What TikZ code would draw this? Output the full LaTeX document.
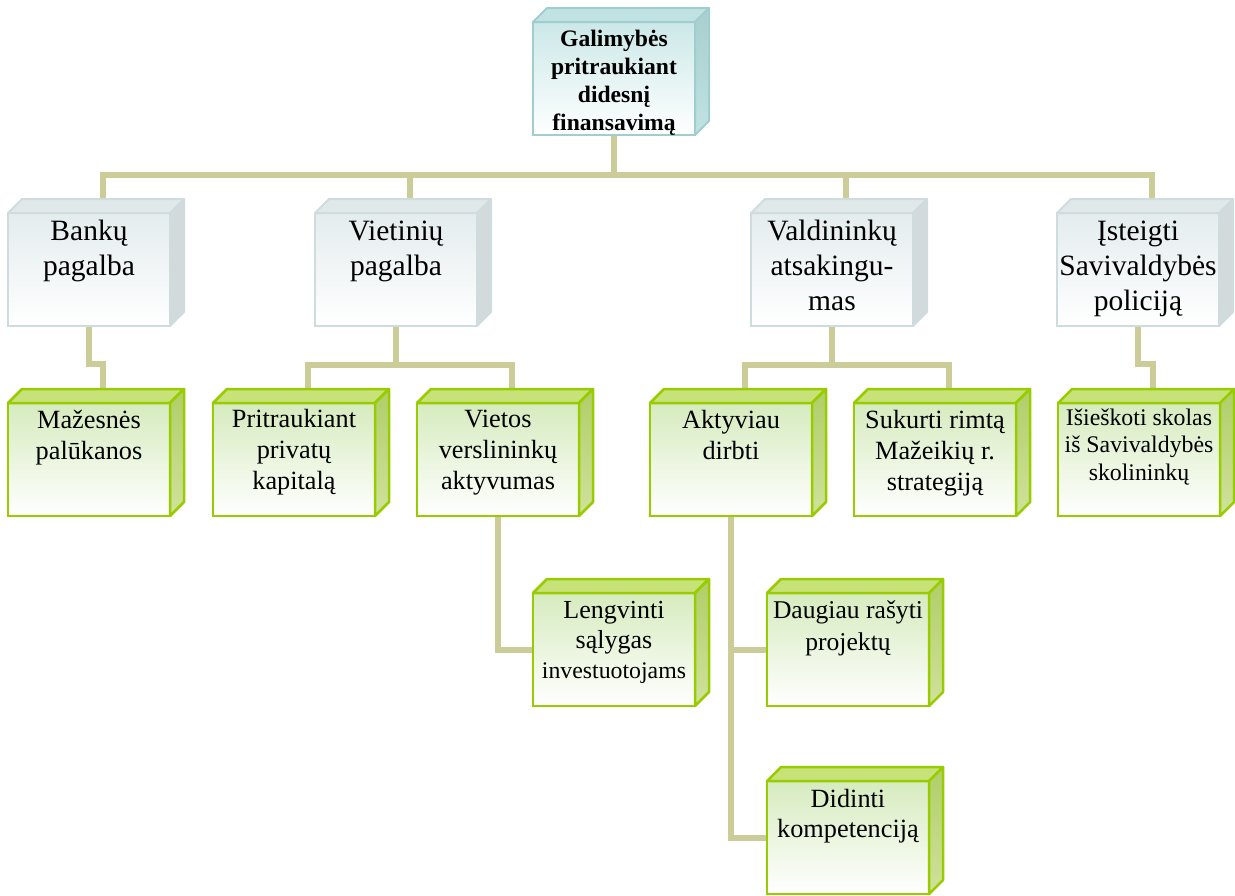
\documentclass[tikz,border=0pt]{standalone}
\usepackage{fontspec}
\setmainfont{Liberation Serif}
\usetikzlibrary{calc}
\pgfdeclarelayer{bg}
\pgfsetlayers{bg,main}

% palette
\definecolor{conncol}{RGB}{204,204,153}
\definecolor{rootline}{RGB}{160,206,206}
\definecolor{rootfill}{RGB}{204,232,232}
\definecolor{rootlid}{RGB}{192,226,226}
\definecolor{rootside}{RGB}{168,206,206}
\definecolor{midline}{RGB}{206,220,222}
\definecolor{midfill}{RGB}{228,236,238}
\definecolor{midlid}{RGB}{224,232,234}
\definecolor{midside}{RGB}{210,218,220}
\definecolor{leafline}{RGB}{153,204,0}
\definecolor{leaffill}{RGB}{214,235,190}
\definecolor{leaflid}{RGB}{200,226,122}
\definecolor{leafsideA}{RGB}{176,206,104}
\definecolor{leafsideB}{RGB}{208,226,156}

\tikzset{
  facebox/.style={rectangle, minimum width=162pt, minimum height=113pt,
    inner sep=0pt, outer sep=0pt, anchor=north west},
  rootbox/.style={facebox, draw=rootline, line width=2pt, top color=rootfill, bottom color=white},
  rootbox-lid/.style={draw=rootline, line width=2pt, fill=rootlid, line join=round},
  rootbox-side/.style={draw=rootline, line width=2pt, top color=rootside, bottom color=rootlid, line join=round},
  midbox/.style={facebox, draw=midline, line width=2pt, top color=midfill, bottom color=white},
  midbox-lid/.style={draw=midline, line width=2pt, fill=midlid, line join=round},
  midbox-side/.style={draw=midline, line width=2pt, fill=midside, line join=round},
  leafbox/.style={facebox, draw=leafline, line width=2.5pt, top color=leaffill, bottom color=white},
  leafbox-lid/.style={draw=leafline, line width=2.5pt, fill=leaflid, line join=round},
  leafbox-side/.style={draw=leafline, line width=2.5pt, top color=leafsideA, bottom color=leafsideB, line join=round},
  conn/.style={draw=conncol, line width=6pt},
  txt/.style={anchor=north, inner sep=0pt, align=center},
  roottxt/.style={txt, font=\bfseries\fontsize{23.6}{28}\selectfont},
  midtxt/.style={txt, font=\fontsize{29.5}{35}\selectfont},
  leaftxt/.style={txt, font=\fontsize{26.3}{31}\selectfont},
  smalltxt/.style={txt, font=\fontsize{23.8}{27.5}\selectfont},
}

% a box with a lid and a right side; #1 name, #2,#3 front top-left corner, #4 style
\newcommand\boxthree[4]{%
  \node[#4] (#1) at (#2,#3) {};
  \path[#4-lid] (#1.north west) -- ++(14,-14) -- ($(#1.north east)+(14,-14)$)
     -- (#1.north east) -- cycle;
  \path[#4-side] (#1.north east) -- ++(14,-14) -- ($(#1.south east)+(14,-14)$)
     -- (#1.south east) -- cycle;
}
% first-line strut fixing the first baseline below the box top
\newcommand\fl[1]{\rule{0pt}{#1pt}}

\begin{document}
\begin{tikzpicture}[x=1pt,y=-1pt]
\useasboundingbox (0,0) rectangle (1235,895);

% boxes
\boxthree{top}{533}{22}{rootbox}
\boxthree{bank}{8}{213}{midbox}
\boxthree{viet}{315}{213}{midbox}
\boxthree{vald}{751}{213}{midbox}
\boxthree{ist}{1057}{213}{midbox}
\boxthree{maz}{8}{403}{leafbox}
\boxthree{prit}{213}{403}{leafbox}
\boxthree{vietos}{417}{403}{leafbox}
\boxthree{akt}{650}{403}{leafbox}
\boxthree{suk}{854}{403}{leafbox}
\boxthree{isies}{1058}{403}{leafbox}
\boxthree{leng}{533}{593}{leafbox}
\boxthree{daug}{767}{593}{leafbox}
\boxthree{didi}{767}{781}{leafbox}

% texts
\node[roottxt] (top-t) at (top.north) {\fl{24}Galimybės\\pritraukiant\\didesnį\\finansavimą};
\node[midtxt] (bank-t) at (bank.north) {\fl{27}Bankų\\pagalba};
\node[midtxt] (viet-t) at (viet.north) {\fl{27}Vietinių\\pagalba};
\node[midtxt] (vald-t) at (vald.north) {\fl{27}Valdininkų\\atsakingu-\\mas};
\node[midtxt] (ist-t) at (ist.north) {\fl{27}Įsteigti\\Savivaldybės\\policiją};
\node[leaftxt] (maz-t) at (maz.north) {\fl{25}Mažesnės\\palūkanos};
\node[leaftxt] (prit-t) at (prit.north) {\fl{24.5}Pritraukiant\\privatų\\kapitalą};
\node[leaftxt] (vietos-t) at (vietos.north) {\fl{24.5}Vietos\\verslininkų\\aktyvumas};
\node[leaftxt] (akt-t) at (akt.north) {\fl{25}Aktyviau\\dirbti};
\node[leaftxt] (suk-t) at (suk.north) {\fl{25}Sukurti rimtą\\Mažeikių r.\\strategiją};
\node[smalltxt] (isies-t) at (isies.north) {\fl{22}Išieškoti skolas\\iš Savivaldybės\\skolininkų};
\node[leaftxt, font=\fontsize{26}{30}\selectfont] (leng-t) at (leng.north)
  {\fl{25}Lengvinti\\sąlygas\\{\fontsize{23.8}{28}\selectfont investuotojams}};
\node[leaftxt, font=\fontsize{25.6}{32}\selectfont] (daug-t) at (daug.north) {\fl{25}Daugiau rašyti\\projektų};
\node[leaftxt, font=\fontsize{26.3}{30}\selectfont] (didi-t) at (didi.north) {\fl{26}Didinti\\kompetenciją};

% connectors, behind the boxes
\begin{pgfonlayer}{bg}
\foreach \c in {bank,viet,vald,ist}
  \draw[conn] (top.south) -- (top.south |- 0,175) -| ($(\c.north)+(14,-14)$);
\draw[conn] (bank.south) -- (bank.south |- 0,364) -| ($(maz.north)+(14,-14)$);
\foreach \c in {prit,vietos}
  \draw[conn] (viet.south) -- (viet.south |- 0,365) -| ($(\c.north)+(14,-14)$);
\foreach \c in {akt,suk}
  \draw[conn] (vald.south) -- (vald.south |- 0,365) -| ($(\c.north)+(14,-14)$);
\draw[conn] (ist.south) -- (ist.south |- 0,364) -| ($(isies.north)+(14,-14)$);
\draw[conn] (vietos.south) |- (leng.west);
\draw[conn] (akt.south) |- (daug.west);
\draw[conn] (akt.south) |- (didi.west);
\end{pgfonlayer}
\end{tikzpicture}
\end{document}
